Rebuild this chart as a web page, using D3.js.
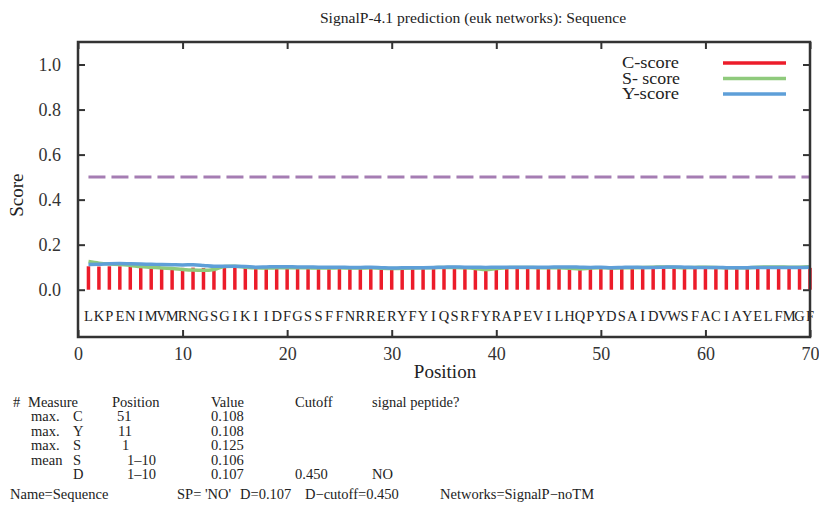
<!DOCTYPE html>
<html>
<head>
    <meta charset="utf-8">
    <title>SignalP</title>
    <script src="https://d3js.org/d3.v7.min.js" charset="utf-8"></script>
    <style type="text/css">
        body { margin: 0; background: #fff; }
        text { font-family: "Liberation Serif", "DejaVu Serif", serif; fill: #222; }
        .frame { fill: none; stroke: #333; stroke-width: 2.5; }
        .axis path { display: none; }
        .axis line { stroke: #333; stroke-width: 2; }
        .axis text { font-size: 18px; fill: #333; font-family: "Liberation Serif", serif; }
    </style>
</head>
<body>
    <script type="text/javascript">
    // sequence, one letter per position
    var sequence = "LKPENIMVMRNGSGIKIIDFGSSFFNRRERYFYIQSRFYRAPEVILHQPYDSAIDVWSFACIAYELFMGF".split("");

    var cScore = [0.104, 0.103, 0.104, 0.104, 0.103, 0.100, 0.098, 0.097, 0.096, 0.097,
                  0.098, 0.096, 0.097, 0.098, 0.097, 0.097, 0.096, 0.097, 0.097, 0.096,
                  0.096, 0.097, 0.096, 0.096, 0.096, 0.095, 0.096, 0.096, 0.095, 0.094,
                  0.094, 0.094, 0.095, 0.095, 0.096, 0.097, 0.096, 0.096, 0.095, 0.096,
                  0.096, 0.096, 0.096, 0.096, 0.096, 0.097, 0.097, 0.096, 0.096, 0.096,
                  0.097, 0.096, 0.096, 0.096, 0.096, 0.097, 0.097, 0.096, 0.096, 0.096,
                  0.096, 0.096, 0.095, 0.095, 0.096, 0.096, 0.096, 0.096, 0.096, 0.097];
    var sScore = [0.125, 0.118, 0.114, 0.112, 0.108, 0.103, 0.100, 0.096, 0.094, 0.090,
                  0.087, 0.086, 0.090, 0.103, 0.104, 0.100, 0.097, 0.096, 0.097, 0.098,
                  0.098, 0.097, 0.096, 0.096, 0.097, 0.096, 0.096, 0.097, 0.095, 0.094,
                  0.095, 0.096, 0.097, 0.098, 0.099, 0.099, 0.097, 0.094, 0.090, 0.094,
                  0.098, 0.099, 0.099, 0.098, 0.098, 0.097, 0.095, 0.092, 0.096, 0.098,
                  0.096, 0.097, 0.098, 0.099, 0.100, 0.101, 0.100, 0.098, 0.099, 0.100,
                  0.099, 0.097, 0.097, 0.098, 0.100, 0.101, 0.101, 0.100, 0.100, 0.102];
    var yScore = [0.112, 0.113, 0.115, 0.116, 0.115, 0.114, 0.113, 0.112, 0.111, 0.110,
                  0.111, 0.108, 0.104, 0.104, 0.104, 0.103, 0.100, 0.101, 0.102, 0.102,
                  0.101, 0.101, 0.100, 0.100, 0.100, 0.099, 0.099, 0.100, 0.098, 0.096,
                  0.097, 0.097, 0.098, 0.099, 0.100, 0.101, 0.100, 0.100, 0.099, 0.100,
                  0.100, 0.100, 0.100, 0.100, 0.100, 0.101, 0.101, 0.100, 0.099, 0.100,
                  0.098, 0.099, 0.100, 0.099, 0.099, 0.100, 0.101, 0.100, 0.099, 0.099,
                  0.099, 0.098, 0.097, 0.098, 0.099, 0.099, 0.099, 0.099, 0.099, 0.100];
    var cutoffLine = 0.5;

    var xTicks = [0, 10, 20, 30, 40, 50, 60, 70];
    var yTicks = [0.0, 0.2, 0.4, 0.6, 0.8, 1.0];

    var legendNames = ["C-score", "S- score", "Y-score"];
    var legendColors = ["#ec1c2a", "#8fca7c", "#5e9fd8"];

    var tableRows = [
        ["#", "Measure", "", "Position", "Value", "Cutoff", "signal peptide?"],
        ["", "max.", "C", "51", "0.108", "", ""],
        ["", "max.", "Y", "11", "0.108", "", ""],
        ["", "max.", "S", "1", "0.125", "", ""],
        ["", "mean", "S", "1\u201310", "0.106", "", ""],
        ["", "", "D", "1\u201310", "0.107", "0.450", "NO"]
    ];
    var summary = ["Name=Sequence", "SP= 'NO'", "D=0.107", "D\u2212cutoff=0.450", "Networks=SignalP\u2212noTM"];

    var W = 819, H = 506;
    var pLeft = 78, pRight = 810, pTop = 42, pBottom = 337;

    var svg = d3.select("body").append("svg")
        .attr("width", W)
        .attr("height", H);

    var x = d3.scaleLinear().domain([0, 70]).range([pLeft, pRight]);
    var y = d3.scaleLinear().domain([-0.21, 1.1]).range([pBottom, pTop]);

    var positions = sequence.map(function (d, i) { return i + 1; });

    // title
    svg.append("text")
        .attr("x", 473).attr("y", 23)
        .attr("text-anchor", "middle")
        .style("font-size", "15.6px")
        .text("SignalP-4.1 prediction (euk networks): Sequence");

    // C-score bars
    svg.selectAll(".cbar")
        .data(cScore)
        .enter().append("line")
        .attr("class", "cbar")
        .attr("x1", function (d, i) { return x(positions[i]); })
        .attr("x2", function (d, i) { return x(positions[i]); })
        .attr("y1", y(0))
        .attr("y2", function (d) { return y(d); })
        .attr("stroke", legendColors[0])
        .attr("stroke-width", 3.5);

    // cutoff dashes
    svg.append("line")
        .attr("x1", x(1)).attr("x2", x(70))
        .attr("y1", y(cutoffLine)).attr("y2", y(cutoffLine))
        .attr("stroke", "#a57db3")
        .attr("stroke-width", 3)
        .attr("stroke-dasharray", "17,6");

    var line = d3.line()
        .x(function (d, i) { return x(positions[i]); })
        .y(function (d) { return y(d); })
        .curve(d3.curveMonotoneX);

    svg.append("path").datum(sScore)
        .attr("d", line).attr("fill", "none")
        .attr("stroke", legendColors[1]).attr("stroke-width", 3.5);
    svg.append("path").datum(yScore)
        .attr("d", line).attr("fill", "none")
        .attr("stroke", legendColors[2]).attr("stroke-width", 3.5);

    // sequence letters
    svg.selectAll(".aa")
        .data(sequence)
        .enter().append("text")
        .attr("class", "aa")
        .attr("x", function (d, i) { return x(positions[i]); })
        .attr("y", y(-0.115) + 5)
        .attr("text-anchor", "middle")
        .style("font-size", "14.5px")
        .text(function (d) { return d; });

    // axes with inward ticks on all sides
    svg.append("g").attr("class", "axis")
        .attr("transform", "translate(0," + pBottom + ")")
        .call(d3.axisBottom(x).tickValues(xTicks).tickSizeInner(-7).tickPadding(10).tickFormat(d3.format("d")));
    svg.append("g").attr("class", "axis")
        .attr("transform", "translate(0," + pTop + ")")
        .call(d3.axisTop(x).tickValues(xTicks).tickSizeInner(-7).tickFormat(""));
    svg.append("g").attr("class", "axis")
        .attr("transform", "translate(" + pLeft + ",0)")
        .call(d3.axisLeft(y).tickValues(yTicks).tickSizeInner(-7).tickPadding(17).tickFormat(d3.format(".1f")));
    svg.append("g").attr("class", "axis")
        .attr("transform", "translate(" + pRight + ",0)")
        .call(d3.axisRight(y).tickValues(yTicks).tickSizeInner(-7).tickFormat(""));

    svg.append("rect").attr("class", "frame")
        .attr("x", pLeft).attr("y", pTop)
        .attr("width", pRight - pLeft).attr("height", pBottom - pTop);

    // axis titles
    svg.append("text")
        .attr("x", 445).attr("y", 378)
        .attr("text-anchor", "middle")
        .style("font-size", "19px")
        .text("Position");
    svg.append("text")
        .attr("transform", "translate(23," + y(0.42) + ") rotate(-90)")
        .attr("text-anchor", "middle")
        .style("font-size", "19px")
        .text("Score");

    // legend
    legendNames.forEach(function (name, i) {
        var ly = 63 + i * 15.5;
        svg.append("text")
            .attr("x", 622).attr("y", ly + 5)
            .attr("textLength", i === 1 ? 58 : 57)
            .attr("lengthAdjust", "spacingAndGlyphs")
            .style("font-size", "16px")
            .text(name);
        svg.append("line")
            .attr("x1", 723).attr("x2", 786)
            .attr("y1", ly).attr("y2", ly)
            .attr("stroke", legendColors[i])
            .attr("stroke-width", 3.5);
    });

    // result table
    var colX = [13, 28, 73, 112, 211, 295, 372];
    var colOffset = [[0, 0, 0, 0, 0, 0, 0], [0, 3, 0, 5, 0, 0, 0], [0, 3, 0, 6, 0, 0, 0],
                     [0, 3, 0, 10, 0, 0, 0], [0, 3, 0, 15, 0, 0, 0], [0, 0, 0, 15, 0, 0, 0]];
    tableRows.forEach(function (row, r) {
        row.forEach(function (cell, c) {
            if (!cell) return;
            svg.append("text")
                .attr("x", colX[c] + colOffset[r][c])
                .attr("y", 407 + r * 14.4)
                .style("font-size", "14.5px")
                .text(cell);
        });
    });
    var sumX = [10, 177, 240, 305, 440];
    summary.forEach(function (s, i) {
        svg.append("text")
            .attr("x", sumX[i]).attr("y", 499)
            .style("font-size", "14.5px")
            .text(s);
    });
    </script>
</body>
</html>
